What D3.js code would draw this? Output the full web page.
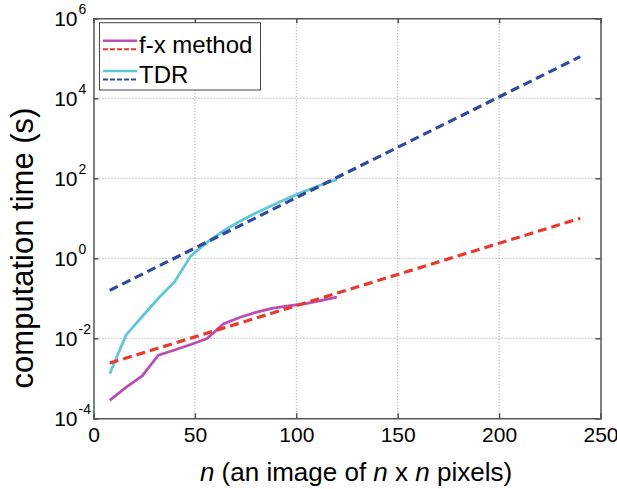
<!DOCTYPE html>
<html>
<head>
<meta charset="utf-8">
<script src="https://cdn.jsdelivr.net/npm/d3@7"></script>
<style>
  body { margin: 0; background: #fff; }
  svg { font-family: "Liberation Sans", Arial, sans-serif; }
</style>
</head>
<body>
<svg id="chart" width="617" height="489"></svg>
<script>
// image size n (pixels per side)
const nSamples = [8, 16, 24, 32, 40, 48, 56, 64, 72, 80, 88, 96, 104, 112, 120];
// measured computation times (s)
const fxTimes  = [2.8e-4, 5.9e-4, 1.15e-3, 3.8e-3, 5.1e-3, 7.0e-3, 9.8e-3, 0.0229, 0.0331, 0.0447, 0.0562, 0.0646, 0.0724, 0.0871, 0.107];
const tdrTimes = [1.3e-3, 0.012, 0.035, 0.1, 0.26, 1.15, 2.5, 4.8, 8.3, 13.5, 21, 32, 47, 68, 93];
// fitted trends (end points of the straight lines on log axis)
const fitN = [8, 240];
const fxFit  = [2.4e-3, 10];
const tdrFit = [0.158, 1.1e5];

const xTicks = [0, 50, 100, 150, 200, 250];
const yExps = [-4, -2, 0, 2, 4, 6];

const margin = { top: 18.3, right: 16.5, bottom: 70.7, left: 93.5 };
const width = 617 - margin.left - margin.right;
const height = 489 - margin.top - margin.bottom;

const svg = d3.select('#chart');
const g = svg.append('g').attr('transform', `translate(${margin.left},${margin.top})`);

const x = d3.scaleLinear().domain([0, 250]).range([0, width]);
const y = d3.scaleLog().domain([1e-4, 1e6]).range([height, 0]);
const yTicks = yExps.map(e => Math.pow(10, e));

// grid
const grid = g.append('g').attr('stroke', '#9a9a9a').attr('stroke-width', 1).attr('stroke-dasharray', '1,2');
grid.selectAll('.gx').data(xTicks.slice(1, -1)).join('line')
    .attr('x1', d => x(d)).attr('x2', d => x(d)).attr('y1', 0).attr('y2', height);
grid.selectAll('.gy').data(yTicks.slice(1, -1)).join('line')
    .attr('x1', 0).attr('x2', width).attr('y1', d => y(d)).attr('y2', d => y(d));

// lines
const line = d3.line().x(d => x(d[0])).y(d => y(d[1]));
const series = [
    { n: fitN, t: fxFit, color: '#e83a2c', dash: '9,5', w: 3.2 },
    { n: fitN, t: tdrFit, color: '#2f4a9e', dash: '9,5', w: 3.2 },
    { n: nSamples, t: tdrTimes, color: '#62c6da', dash: null, w: 2.8 },
    { n: nSamples, t: fxTimes, color: '#b94fb4', dash: null, w: 2.8 }
];
// draw solid curves under dashed fits like the original
[series[2], series[3], series[0], series[1]].forEach(s => {
    g.append('path')
        .attr('d', line(s.n.map((n, i) => [n, s.t[i]])))
        .attr('fill', 'none')
        .attr('stroke', s.color)
        .attr('stroke-width', s.w)
        .attr('stroke-dasharray', s.dash);
});

// axes (ticks inward, box on all sides)
const axisColor = '#555';
const xAxis = g.append('g').attr('transform', `translate(0,${height})`)
    .call(d3.axisBottom(x).tickValues(xTicks).tickSize(-5).tickPadding(9));
g.append('g').call(d3.axisTop(x).tickValues(xTicks).tickSize(-5).tickFormat(''));
g.append('g').call(d3.axisLeft(y).tickValues(yTicks).tickSize(-5).tickFormat(''));
g.append('g').attr('transform', `translate(${width},0)`)
    .call(d3.axisRight(y).tickValues(yTicks).tickSize(-5).tickFormat(''));
g.selectAll('.domain, .tick line').attr('stroke', axisColor).attr('stroke-width', 1.5);
xAxis.selectAll('text').attr('font-size', 21).attr('fill', '#000')
    .attr('font-family', '"Liberation Sans", Arial, sans-serif');

// y tick labels 10^e
const yl = g.append('g');
yl.selectAll('.base').data(yExps).join('text')
    .attr('x', 77.5 - margin.left).attr('y', d => y(Math.pow(10, d)) + 7.5)
    .attr('text-anchor', 'end').attr('font-size', 21).text('10');
yl.selectAll('.exp').data(yExps).join('text')
    .attr('x', 78.5 - margin.left).attr('y', d => y(Math.pow(10, d)) - 4)
    .attr('font-size', 14).text(d => d);

// legend
const legend = [
    { name: 'f-x method', solid: '#b94fb4', dashed: '#e83a2c' },
    { name: 'TDR', solid: '#62c6da', dashed: '#2f4a9e' }
];
const lg = svg.append('g');
lg.append('rect').attr('x', 99.5).attr('y', 22.7).attr('width', 161).attr('height', 67.3)
    .attr('fill', '#fff').attr('stroke', '#444').attr('stroke-width', 1);
legend.forEach((d, i) => {
    const yy = 40.7 + i * 30.3;
    lg.append('line').attr('x1', 103).attr('x2', 137).attr('y1', yy).attr('y2', yy)
        .attr('stroke', d.solid).attr('stroke-width', 2.5);
    lg.append('line').attr('x1', 103).attr('x2', 137).attr('y1', yy + 8.6).attr('y2', yy + 8.6)
        .attr('stroke', d.dashed).attr('stroke-width', 2).attr('stroke-dasharray', '5,2');
    lg.append('text').attr('x', 139).attr('y', yy + 12).attr('font-size', 24).text(d.name);
});

// axis titles
const xt = svg.append('text').attr('x', 356).attr('y', 481).attr('text-anchor', 'middle').attr('font-size', 26);
xt.append('tspan').attr('font-style', 'italic').text('n');
xt.append('tspan').text(' (an image of ');
xt.append('tspan').attr('font-style', 'italic').text('n');
xt.append('tspan').text(' x ');
xt.append('tspan').attr('font-style', 'italic').text('n');
xt.append('tspan').text(' pixels)');

svg.append('text').attr('transform', 'translate(33,248) rotate(-90)')
    .attr('text-anchor', 'middle').attr('font-size', 31).text('computation time (s)');
</script>
</body>
</html>
